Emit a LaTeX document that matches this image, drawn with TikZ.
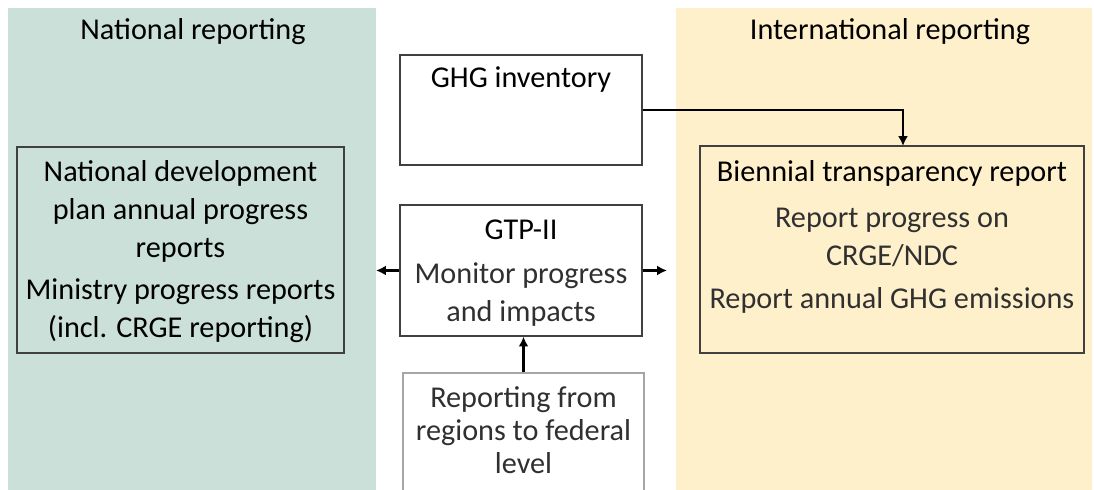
\documentclass[tikz,border=0pt]{standalone}
\usepackage{fontspec}
\setmainfont{Carlito}
\usetikzlibrary{arrows.meta}
\definecolor{natgreen}{RGB}{203,224,216}
\definecolor{intyellow}{RGB}{255,240,204}
\definecolor{boxline}{RGB}{64,64,64}
\definecolor{subtext}{RGB}{48,48,48}

\begin{document}
\begin{tikzpicture}[x=0.025cm, y=-0.025cm,
    every node/.style={font=\fontsize{21.5}{27}\selectfont, align=center},
    panel/.style={draw=none, inner sep=0pt},
    box/.style={draw=boxline, line width=0.8pt, inner sep=0pt},
    sub/.style={text=subtext},
    arr/.style={-{Latex[length=7pt,width=7pt]}, line width=1.6pt}]
    \useasboundingbox (0,0) rectangle (1094,490);
    \clip (0,0) rectangle (1094,490);
    % background panels
    \node [panel, fill=natgreen, minimum width=9.2cm, minimum height=12.5cm] (natpanel) at (192,258) {};
    \node [panel, fill=intyellow, minimum width=10.4cm, minimum height=12.5cm] (intpanel) at (884,258) {};
    \node (nathead) at (193,32) {National reporting};
    \node (inthead) at (890,32) {International reporting};
    % boxes
    \node [box, fill=white, minimum width=6.05cm, minimum height=2.75cm] (ghg) at (521,110) {};
    \node (ghgtxt) at (521,80) {GHG inventory};
    \node [box, minimum width=8.175cm, minimum height=5.15cm] (ndp) at (180.5,250) {};
    \node (ndptxt) at (180.5,211) {National development\\plan annual progress\\reports};
    \node (mintxt) at (180.5,311) {Ministry progress reports\\(incl. CRGE reporting)};
    \node [box, fill=white, minimum width=6.05cm, minimum height=3.275cm] (gtp) at (521,270.5) {};
    \node (gtptxt) at (521,230) {GTP-II};
    \node [sub] (montxt) at (521,295) {Monitor progress\\and impacts};
    \node [box, draw=black!35, fill=white, minimum width=6.025cm, minimum height=3.75cm] (reg) at (523.5,448) {};
    \node [sub, font=\fontsize{21.5}{23.5}\selectfont] (regtxt) at (523.5,430) {Reporting from\\regions to federal\\level};
    \node [box, minimum width=9.6cm, minimum height=5.175cm] (btr) at (892,249.5) {};
    \node (btrtxt) at (892,173) {Biennial transparency report};
    \node [sub] (progtxt) at (892,237.5) {Report progress on\\CRGE/NDC};
    \node [sub] (emtxt) at (892,300) {Report annual GHG emissions};
    % connectors
    \coordinate (btrin) at (903,146);
    \coordinate (natin) at (376,270.5);
    \coordinate (intin) at (667,270.5);
    \draw [arr] (ghg.east) -| (btrin);
    \draw [arr] (gtp.west) to (natin);
    \draw [arr] (gtp.east) to (intin);
    \draw [arr] (reg.north) to (reg.north |- gtp.south);
\end{tikzpicture}
\end{document}
